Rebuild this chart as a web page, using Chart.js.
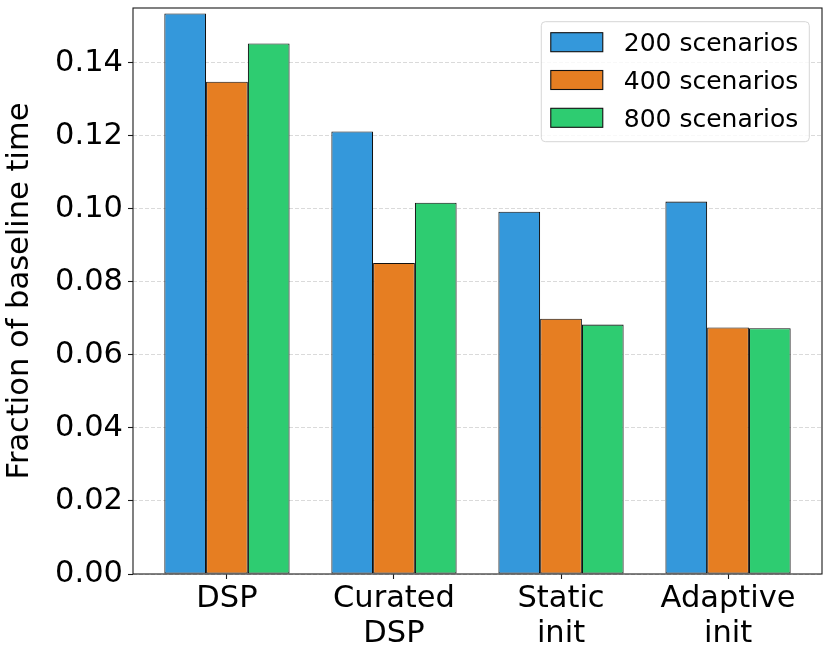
<!DOCTYPE html>
<html><head><meta charset="utf-8">
<script src="https://cdn.jsdelivr.net/npm/chart.js@4"></script>
<style>html,body{margin:0;padding:0;background:#fff}#wrap{width:831px;height:655px}</style>
</head><body><div id="wrap"><canvas id="c" width="831" height="655"></canvas></div>
<script>
const categories = [['DSP'], ['Curated', 'DSP'], ['Static', 'init'], ['Adaptive', 'init']];
const seriesNames = ['200 scenarios', '400 scenarios', '800 scenarios'];
const values200 = [0.1535, 0.1212, 0.0992, 0.1020];
const values400 = [0.1348, 0.0852, 0.0699, 0.0675];
const values800 = [0.1453, 0.1017, 0.0683, 0.0673];
const yTickValues = [0, 0.02, 0.04, 0.06, 0.08, 0.10, 0.12, 0.14];
const seriesColors = ['#3498db', '#e67e22', '#2ecc71'];
const yTitle = 'Fraction of baseline time';
const FONT = 'DejaVu Sans';

const seriesValues = [values200, values400, values800];
const datasets = seriesNames.map((name, s) => ({
  label: name,
  data: seriesValues[s].map((v, i) => ({ x: i, y: v })),
  backgroundColor: seriesColors[s],
  borderColor: '#111',
  borderWidth: 1.1,
  borderSkipped: false,
  barPercentage: 1.0,
  categoryPercentage: 0.75
}));

const framePlugin = {
  id: 'frame',
  afterDatasetsDraw(chart) {
    const a = chart.chartArea, ctx = chart.ctx;
    ctx.save();
    ctx.strokeStyle = '#1a1a1a';
    ctx.lineWidth = 1.1;
    ctx.strokeRect(a.left, a.top, a.right - a.left, a.bottom - a.top);
    ctx.restore();
  }
};

const legendPlugin = {
  id: 'boxLegend',
  afterDraw(chart) {
    const ctx = chart.ctx, a = chart.chartArea;
    const fs = 25;
    ctx.save();
    ctx.font = fs + 'px "' + FONT + '"';
    const items = chart.data.datasets;
    const tw = Math.max(...items.map(d => ctx.measureText(d.label).width));
    const pad = 9.5, hw = 52, hh = 19, gap = 21, rowH = 37.8;
    const w = pad + hw + gap + tw + 11;
    const h = 120;
    const x = a.right - 12.7 - w, y = a.top + 13.7;
    ctx.beginPath();
    ctx.roundRect(x, y, w, h, 4);
    ctx.fillStyle = 'rgba(255,255,255,0.8)';
    ctx.fill();
    ctx.strokeStyle = '#d6d6d6';
    ctx.lineWidth = 1;
    ctx.stroke();
    items.forEach((d, i) => {
      const cy = y + 20.5 + i * rowH;
      ctx.fillStyle = d.backgroundColor;
      ctx.fillRect(x + pad, cy - hh / 2, hw, hh);
      ctx.strokeStyle = '#111';
      ctx.lineWidth = 1.1;
      ctx.strokeRect(x + pad, cy - hh / 2, hw, hh);
      ctx.fillStyle = '#000';
      ctx.textBaseline = 'alphabetic';
      ctx.textAlign = 'left';
      ctx.fillText(d.label, x + pad + hw + gap, cy + 9.2);
    });
    ctx.restore();
  }
};

new Chart(document.getElementById('c'), {
  type: 'bar',
  data: { datasets },
  plugins: [framePlugin, legendPlugin],
  options: {
    responsive: false,
    animation: false,
    devicePixelRatio: 1,
    layout: { padding: { left: 0, right: 9, top: 8, bottom: 0 } },
    plugins: { legend: { display: false }, tooltip: { enabled: false } },
    scales: {
      x: {
        type: 'linear',
        offset: false,
        min: -0.5625,
        max: 3.5625,
        afterBuildTicks: (axis) => { axis.ticks = categories.map((_, i) => ({ value: i })); },
        afterFit: (axis) => { axis.height = 81; axis.paddingLeft = 0; axis.paddingRight = 0; },
        ticks: {
          autoSkip: false,
          maxRotation: 0,
          padding: 2,
          color: '#000',
          font: { family: FONT, size: 30.5, lineHeight: 1.17 },
          callback: (v) => categories[v]
        },
        grid: { offset: false, drawOnChartArea: false, drawTicks: true, tickLength: 5, tickWidth: 1.1, tickColor: '#1a1a1a' },
        border: { display: false }
      },
      y: {
        min: 0,
        max: 0.155,
        afterBuildTicks: (axis) => { axis.ticks = yTickValues.map(v => ({ value: v })); },
        afterFit: (axis) => { axis.width = 133; axis.paddingTop = 0; axis.paddingBottom = 0; },
        ticks: {
          padding: 5,
          color: '#000',
          font: { family: FONT, size: 30.5 },
          callback: (v) => Number(v).toFixed(2)
        },
        grid: { color: 'rgba(176,176,176,0.6)', lineWidth: 0.8, drawTicks: true, tickLength: 5, tickWidth: 1.1, tickColor: '#1a1a1a' },
        border: { display: false, dash: [4, 2] },
        title: {
          display: true,
          text: yTitle,
          color: '#000',
          font: { family: FONT, size: 30.5 },
          padding: { top: 2, bottom: 0 }
        }
      }
    }
  }
});
</script>
</body></html>
